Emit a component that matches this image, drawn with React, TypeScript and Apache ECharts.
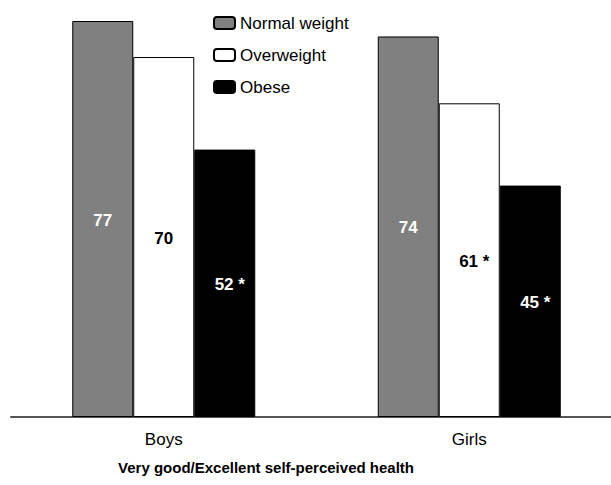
import React, { useEffect, useRef } from "react";
import * as echarts from "echarts";

const categories = ["Boys", "Girls"];
const seriesNames = ["Normal weight", "Overweight", "Obese"];
const normalWeight = [77, 74];
const overweight = [70, 61];
const obese = [52, 45];
const overweightStar = [false, true];
const obeseStar = [true, true];
const normalStar = [false, false];
const xTitle = "Very good/Excellent self-perceived health";

const FONT = "'Liberation Sans', Arial, sans-serif";

function buildData(values: number[], stars: boolean[], textColor: string) {
  return values.map((v, i) => ({
    value: v,
    label: {
      show: true,
      position: "inside",
      formatter: stars[i] ? `${v} *` : `${v}`,
      offset: stars[i] ? [5, 1] : [0, 1],
      color: textColor,
      fontFamily: FONT,
      fontWeight: "bold",
      fontSize: 17,
    },
  }));
}

export default function App() {
  const ref = useRef<HTMLDivElement>(null);
  useEffect(() => {
    document.body.style.margin = "0";
    document.body.style.overflow = "hidden";
    if (!ref.current) return;
    const chart = echarts.init(ref.current, undefined, { renderer: "svg" });
    const barBase = {
      type: "bar",
      barWidth: 61,
      barGap: "0%",
    };
    chart.setOption({
      animation: false,
      backgroundColor: "#fff",
      textStyle: { fontFamily: FONT },
      grid: { left: 11, right: 0, top: 5.6, bottom: 68, containLabel: false },
      legend: {
        orient: "vertical",
        left: 208,
        top: 8,
        itemWidth: 21,
        itemHeight: 12,
        itemGap: 12,
        textStyle: { fontFamily: FONT, fontSize: 17, color: "#000", lineHeight: 20 },
        data: seriesNames,
      },
      xAxis: {
        type: "category",
        data: categories,
        axisLine: { show: true, lineStyle: { color: "#555", width: 2 } },
        axisTick: { show: false },
        axisLabel: { margin: 14, fontSize: 17, color: "#000", fontFamily: FONT },
      },
      yAxis: {
        type: "value",
        min: 0,
        max: 80,
        show: false,
        splitLine: { show: false },
      },
      graphic: [
        {
          type: "text",
          x: 266,
          y: 467,
          style: {
            text: xTitle,
            fontFamily: FONT,
            fontWeight: "bold",
            fontSize: 15,
            fill: "#000",
            textAlign: "center",
            textVerticalAlign: "middle",
          },
        },
      ],
      series: [
        {
          ...barBase,
          name: seriesNames[0],
          itemStyle: { color: "#808080", borderColor: "#000", borderWidth: 1 },
          data: buildData(normalWeight, normalStar, "#fff"),
        },
        {
          ...barBase,
          name: seriesNames[1],
          itemStyle: { color: "#fff", borderColor: "#000", borderWidth: 1 },
          data: buildData(overweight, overweightStar, "#000"),
        },
        {
          ...barBase,
          name: seriesNames[2],
          itemStyle: { color: "#000", borderColor: "#000", borderWidth: 1 },
          data: buildData(obese, obeseStar, "#fff"),
        },
      ],
    });
    return () => chart.dispose();
  }, []);
  return (
    <div style={{ width: 611, height: 485, overflow: "hidden", position: "relative" }}>
      <div ref={ref} style={{ width: 622, height: 485 }} />
    </div>
  );
}
